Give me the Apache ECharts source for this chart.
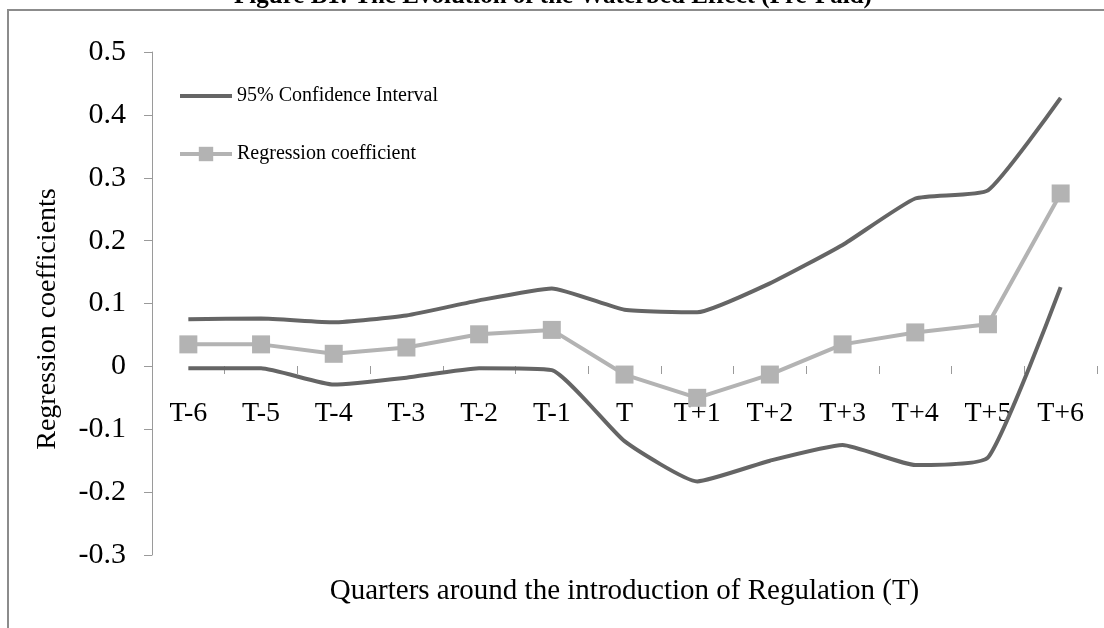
<!DOCTYPE html>
<html>
<head>
<meta charset="utf-8">
<script src="https://cdn.jsdelivr.net/npm/echarts@6/dist/echarts.min.js"></script>
<style>
  html, body { margin: 0; padding: 0; background: #fff; }
  #chart { width: 1104px; height: 628px; }
</style>
</head>
<body>
<div id="chart"></div>
<script>
// quarters relative to the regulation (T)
const categories = ['T-6', 'T-5', 'T-4', 'T-3', 'T-2', 'T-1', 'T', 'T+1', 'T+2', 'T+3', 'T+4', 'T+5', 'T+6'];
const ciUpper = [0.075, 0.076, 0.070, 0.081, 0.105, 0.124, 0.090, 0.086, 0.132, 0.193, 0.267, 0.280, 0.427];
const coefficient = [0.035, 0.035, 0.020, 0.030, 0.051, 0.058, -0.013, -0.050, -0.013, 0.035, 0.054, 0.067, 0.275];
const ciLower = [-0.003, -0.003, -0.029, -0.018, -0.003, -0.006, -0.119, -0.183, -0.150, -0.125, -0.157, -0.145, 0.126];

const serif = '"Liberation Serif", "Times New Roman", serif';
const ciColor = '#656565';
const coefColor = '#b3b3b3';

const chart = echarts.init(document.getElementById('chart'));

chart.setOption({
  backgroundColor: '#ffffff',
  animation: false,
  graphic: [
    {
      type: 'rect',
      shape: { x: 8, y: 10, width: 1110, height: 640 },
      style: { fill: 'none', stroke: '#8c8c8c', lineWidth: 2 }
    },
    {
      type: 'text',
      x: 553,
      y: 9,
      style: {
        text: 'Figure B1: The Evolution of the Waterbed Effect (Pre-Paid)',
        font: 'bold 25px ' + serif,
        fill: '#000',
        align: 'center',
        verticalAlign: 'bottom'
      }
    },
    {
      type: 'text',
      x: 48,
      y: 319,
      rotation: Math.PI / 2,
      style: {
        text: 'Regression coefficients',
        font: '28px ' + serif,
        fill: '#000',
        align: 'center',
        verticalAlign: 'middle'
      }
    }
  ],
  legend: {
    orient: 'vertical',
    left: 178,
    top: 86,
    padding: 0,
    itemWidth: 52,
    itemHeight: 18,
    itemGap: 38,
    textStyle: { fontFamily: serif, fontSize: 20, color: '#000' },
    data: [
      { name: '95% Confidence Interval', itemStyle: { opacity: 0 }, lineStyle: { width: 4 } },
      { name: 'Regression coefficient', lineStyle: { width: 4 } }
    ]
  },
  grid: { left: 152, right: 7, top: 52, bottom: 73, outerBoundsMode: 'none' },
  xAxis: {
    type: 'category',
    data: categories,
    boundaryGap: true,
    // sit the category axis on the zero line (0 is 3/8 of the way up)
    offset: -189,
    axisLine: { show: false, onZero: false },
    axisTick: { show: true, length: 8, lineStyle: { color: '#9a9a9a' } },
    axisLabel: { fontFamily: serif, fontSize: 28, color: '#000', margin: 34 },
    name: 'Quarters around the introduction of Regulation (T)',
    nameLocation: 'middle',
    nameGap: 211,
    nameTextStyle: { fontFamily: serif, fontSize: 29, color: '#000' }
  },
  yAxis: {
    type: 'value',
    min: -0.3,
    max: 0.5,
    interval: 0.1,
    splitLine: { show: false },
    axisLine: { show: true, lineStyle: { color: '#9a9a9a', width: 1 } },
    axisTick: { show: true, length: 8, lineStyle: { color: '#9a9a9a' } },
    axisLabel: {
      fontFamily: serif, fontSize: 30, color: '#000', margin: 26,
      formatter: v => String(Math.round(v * 10) / 10)
    }
  },
  series: [
    {
      name: '95% Confidence Interval',
      type: 'line',
      data: ciUpper,
      smooth: 0.15,
      symbol: 'none',
      lineStyle: { color: ciColor, width: 4 },
      itemStyle: { color: ciColor }
    },
    {
      name: '95% Confidence Interval',
      type: 'line',
      data: ciLower,
      smooth: 0.15,
      symbol: 'none',
      lineStyle: { color: ciColor, width: 4 },
      itemStyle: { color: ciColor }
    },
    {
      name: 'Regression coefficient',
      type: 'line',
      data: coefficient,
      symbol: 'rect',
      symbolSize: 18,
      lineStyle: { color: coefColor, width: 4 },
      itemStyle: { color: coefColor }
    }
  ]
});
</script>
</body>
</html>
